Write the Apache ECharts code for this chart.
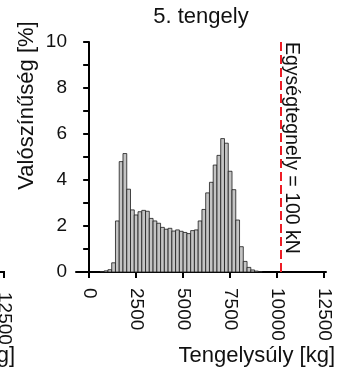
<!DOCTYPE html>
<html><head><meta charset="utf-8">
<script src="https://cdn.jsdelivr.net/npm/echarts@6/dist/echarts.min.js"></script>
<style>html,body{margin:0;padding:0;background:#fff;}#c{width:352px;height:371px;}</style>
</head><body><div id="c"></div>
<script>
// ---- data ----
const chartTitle = '5. tengely';
const xAxisTitle = 'Tengelysúly [kg]';
const yAxisTitle = 'Valószínűség [%]';
const limitLabel = 'Egységtegnely = 100 kN';
const limitKg = 10197;            // 100 kN expressed in kg
const binWidthKg = 200;
const binStartKg = [600, 800, 1000, 1200, 1400, 1600, 1800, 2000, 2200, 2400,
  2600, 2800, 3000, 3200, 3400, 3600, 3800, 4000, 4200, 4400,
  4600, 4800, 5000, 5200, 5400, 5600, 5800, 6000, 6200, 6400,
  6600, 6800, 7000, 7200, 7400, 7600, 7800, 8000, 8200, 8400,
  8600, 8800, 9000];
const probability = [0.02, 0.05, 0.1, 0.4, 2.22, 4.8, 5.15, 3.6, 2.7, 2.48,
  2.62, 2.68, 2.64, 2.33, 2.22, 2.12, 1.94, 1.86, 1.9, 1.78,
  1.83, 1.77, 1.72, 1.67, 1.8, 1.83, 2.22, 2.72, 3.44, 3.9,
  4.65, 5.07, 5.8, 5.6, 4.38, 3.58, 2.26, 1.1, 0.46, 0.2,
  0.09, 0.04, 0.02];
const xTicks = [0, 2500, 5000, 7500, 10000, 12500];
const yTicks = [0, 2, 4, 6, 8, 10];
const neighbourTickLabel = '12500';

// ---- chart ----
const FONT = '"Liberation Sans", Arial, sans-serif';
const chart = echarts.init(document.getElementById('c'), null, {renderer: 'canvas'});
const histData = binStartKg.map((s, i) => [s, s + binWidthKg, probability[i]]);

const option = {
  animation: false,
  backgroundColor: '#fff',
  grid: {left: 76, right: 26, top: 42, bottom: 99, containLabel: false},
  xAxis: {
    type: 'value', min: -700, max: 12600,
    axisLine: {show: true, onZero: false, lineStyle: {color: '#000', width: 2}},
    axisTick: {show: true, length: 6, lineStyle: {color: '#000', width: 2}, customValues: xTicks},
    axisLabel: {show: true, rotate: -90, margin: 16, color: '#111', fontSize: 19, fontFamily: FONT,
      customValues: xTicks, formatter: v => String(v)},
    splitLine: {show: false}, minorTick: {show: false}
  },
  yAxis: {
    type: 'value', min: yTicks[0], max: yTicks[yTicks.length - 1], interval: 2,
    axisLine: {show: true, lineStyle: {color: '#000', width: 2}},
    axisTick: {show: true, length: 6, lineStyle: {color: '#000', width: 2}},
    minorTick: {show: true, splitNumber: 2, length: 6, lineStyle: {color: '#000', width: 2}},
    axisLabel: {show: true, margin: 9, color: '#111', fontSize: 19, fontFamily: FONT},
    splitLine: {show: false}, minorSplitLine: {show: false}
  },
  series: [
    {
      type: 'custom',
      data: histData,
      encode: {x: [0, 1], y: 2},
      renderItem: function (params, api) {
        const p0 = api.coord([api.value(0), api.value(2)]);
        const p1 = api.coord([api.value(1), 0]);
        return {
          type: 'rect',
          shape: {x: p0[0], y: p0[1], width: p1[0] - p0[0], height: p1[1] - p0[1]},
          style: {fill: '#c4c4c4', stroke: '#1a1a1a', lineWidth: 0.8}
        };
      },
      z: 2
    },
    {
      type: 'line', data: [], silent: true,
      markLine: {
        silent: true, symbol: 'none', animation: false,
        label: {show: false},
        lineStyle: {color: '#ee1c25', width: 2, type: [9, 4]},
        data: [{xAxis: limitKg}]
      },
      z: 3
    }
  ]
};
chart.setOption(option);

const limitPx = chart.convertToPixel({xAxisIndex: 0}, limitKg);
const tickEndPx = chart.convertToPixel({xAxisIndex: 0}, xTicks[xTicks.length - 1]);
chart.setOption({
  graphic: [
    {type: 'text', x: 201, y: 17, style: {text: chartTitle, font: '22px ' + FONT, fill: '#111', align: 'center', verticalAlign: 'middle'}},
    {type: 'text', x: 335, y: 356, style: {text: xAxisTitle, font: '22px ' + FONT, fill: '#111', align: 'right', verticalAlign: 'middle'}},
    {type: 'text', x: 27, y: 105.5, rotation: Math.PI / 2, style: {text: yAxisTitle, font: '22px ' + FONT, fill: '#111', align: 'center', verticalAlign: 'middle'}},
    {type: 'text', x: limitPx + 0.5, y: 42, rotation: -Math.PI / 2, style: {text: limitLabel, font: '19.5px ' + FONT, fill: '#111', align: 'left', verticalAlign: 'bottom'}},
    // fragments of the neighbouring panel on the left edge
    {type: 'text', x: 15, y: 356, style: {text: xAxisTitle, font: '22px ' + FONT, fill: '#111', align: 'right', verticalAlign: 'middle'}},
    {type: 'text', x: 4, y: 292, rotation: -Math.PI / 2, style: {text: neighbourTickLabel, font: '19px ' + FONT, fill: '#111', align: 'left', verticalAlign: 'middle'}},
    {type: 'line', shape: {x1: 0, y1: 272, x2: 5, y2: 272}, style: {stroke: '#000', lineWidth: 2}},
    {type: 'line', shape: {x1: 4, y1: 272, x2: 4, y2: 278}, style: {stroke: '#000', lineWidth: 2}}
  ]
});
</script>
</body></html>
